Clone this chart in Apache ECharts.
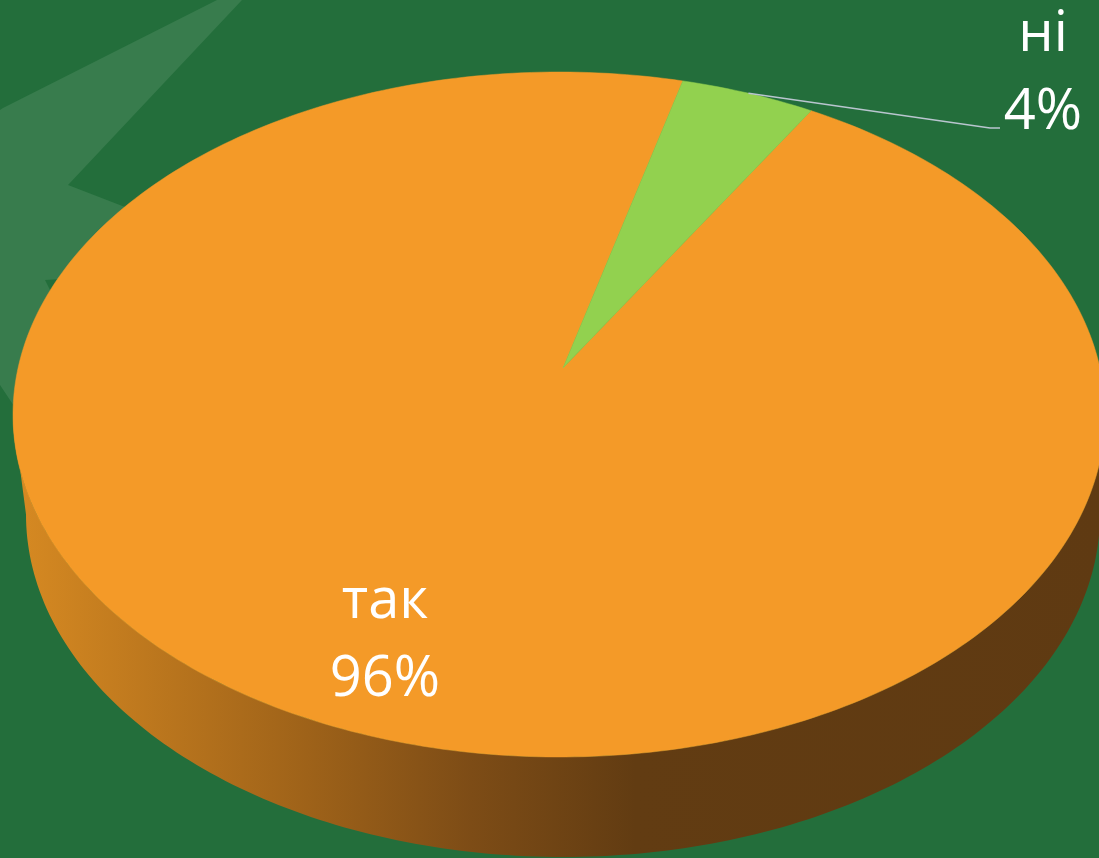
<!DOCTYPE html>
<html>
<head>
<meta charset="utf-8">
<script src="https://cdn.jsdelivr.net/npm/echarts@6/dist/echarts.min.js"></script>
<style>
html,body{margin:0;padding:0;background:#236e3b;}
#chart{width:1099px;height:858px;}
</style>
</head>
<body>
<div id="chart"></div>
<script>
// ---- data ----
var categories = ['так', 'ні'];
var values = [96, 4];
var sliceColors = ['#f49a28', '#92d14f'];

// ---- layout (3D pie projection) ----
var TOP = {cx: 559, cy: 414.5, rx: 546, ry: 342.5};
var BOT = {cx: 563, cy: 514.5, rx: 537, ry: 342.5};
var APEX = [563, 368];
var START_ANGLE = 27.5; // clockwise from top, degrees

var total = values.reduce(function (a, b) { return a + b; }, 0);

function pt(e, aDeg) {
  var a = aDeg * Math.PI / 180;
  return [e.cx + e.rx * Math.sin(a), e.cy - e.ry * Math.cos(a)];
}
function arc(e, a1, a2) {
  var pts = [];
  var n = Math.max(2, Math.ceil(Math.abs(a2 - a1)));
  for (var i = 0; i <= n; i++) pts.push(pt(e, a1 + (a2 - a1) * i / n));
  return pts;
}

var wallGradient = {
  type: 'linear', x: 13, y: 0, x2: 1105, y2: 0, global: true,
  colorStops: [
    {offset: 0, color: '#d78a22'},
    {offset: 0.27, color: '#9e6219'},
    {offset: 0.42, color: '#7d4c16'},
    {offset: 0.57, color: '#623c12'},
    {offset: 1, color: '#5f3a12'}
  ]
};

// label placement per category (text block centre)
var labelLayout = {
  'так': {x: 385, y: 641, inside: true},
  'ні': {x: 1043, y: 74, inside: false, lineEnd: [990, 128], lineTail: [1000, 128]}
};

var chart = echarts.init(document.getElementById('chart'));

var seriesData = categories.map(function (c, i) {
  return {name: c, value: values[i]};
});

chart.setOption({
  backgroundColor: '#236e3b',
  animation: false,
  graphic: [{
    type: 'polygon',
    z: 0,
    silent: true,
    shape: {points: [[3,108],[217,0],[242,0],[68,185],[200,236],[200,270],[45,280],[80,350],[40,445],[0,385],[0,110]]},
    style: {fill: '#387c4d'}
  }],
  series: [{
    type: 'custom',
    coordinateSystem: 'none',
    z: 5,
    data: seriesData,
    renderItem: function (params, api) {
      var i = params.dataIndex;
      var before = 0;
      for (var k = 0; k < i; k++) before += values[k];
      var a1 = START_ANGLE + before / total * 360;
      var a2 = a1 + values[i] / total * 360;
      var children = [];

      // side wall: portion of arc facing the viewer (90..270 deg, also +360 wrap)
      [[90, 270], [450, 630]].forEach(function (rng) {
        var s = Math.max(a1, rng[0]), e = Math.min(a2, rng[1]);
        if (e > s) {
          var topArc = arc(TOP, s, e);
          var botArc = arc(BOT, e, s);
          children.push({
            type: 'polygon', z2: 1,
            shape: {points: topArc.concat(botArc)},
            style: {fill: wallGradient}
          });
        }
      });

      // top face
      var pts = [APEX].concat(arc(TOP, a1, a2));
      children.push({
        type: 'polygon', z2: 10,
        shape: {points: pts},
        style: {fill: sliceColors[i], stroke: sliceColors[i], lineWidth: 0.5}
      });

      // labels
      var name = categories[i];
      var pct = Math.round(values[i] / total * 100) + '%';
      var L = labelLayout[name];
      if (!L.inside) {
        var mid = pt(TOP, (a1 + a2) / 2);
        children.push({
          type: 'polyline', z2: 20,
          shape: {points: [mid, L.lineEnd, L.lineTail]},
          style: {stroke: '#b9c5cf', lineWidth: 1.6, fill: null}
        });
      }
      children.push({
        type: 'text', z2: 30,
        style: {
          text: name + '\n' + pct,
          x: L.x, y: L.y,
          align: 'center', verticalAlign: 'middle',
          fill: '#ffffff',
          font: '56px "Open Sans", sans-serif',
          lineHeight: 78
        },
        x: 0, y: 0
      });
      return {type: 'group', children: children};
    }
  }]
});
</script>
</body>
</html>
